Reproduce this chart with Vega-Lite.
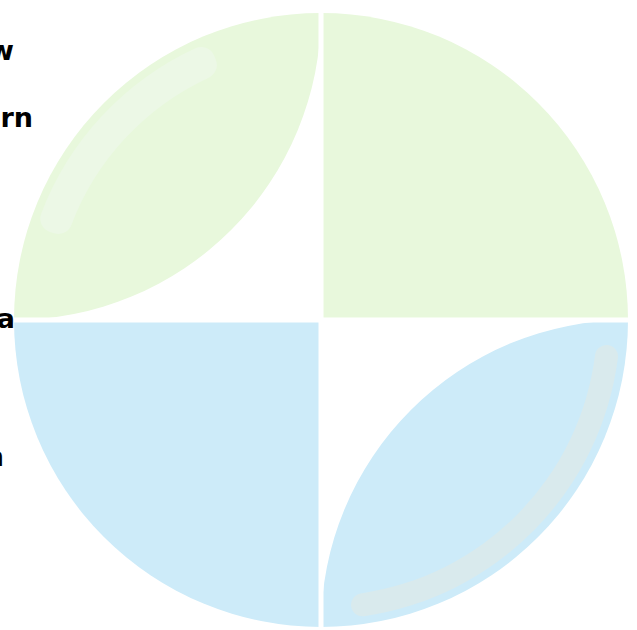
{
  "$schema": "https://vega.github.io/schema/vega-lite/v6.json",
  "width": 637,
  "height": 630,
  "autosize": {"type": "none"},
  "padding": 0,
  "background": "white",
  "config": {"view": {"stroke": null}},
  "datasets": {
    "arcs": [
      {"step": 1, "part": "top-left leaf", "cx": 0, "cy": 0, "r0": 0, "r1": 1, "t0": 270, "t1": 360, "tone": "green"},
      {"step": 1, "part": "bottom-right leaf", "cx": 0, "cy": 0, "r0": 0, "r1": 1, "t0": 90, "t1": 180, "tone": "blue"},
      {"step": 2, "part": "top-left cut", "cx": -1, "cy": 1, "r0": 1, "r1": 1.42, "t0": 90, "t1": 180, "tone": "white"},
      {"step": 2, "part": "bottom-right cut", "cx": 1, "cy": -1, "r0": 1, "r1": 1.42, "t0": 270, "t1": 360, "tone": "white"},
      {"step": 3, "part": "top-right quadrant", "cx": 0, "cy": 0, "r0": 0, "r1": 1, "t0": 0, "t1": 90, "tone": "green"},
      {"step": 3, "part": "bottom-left quadrant", "cx": 0, "cy": 0, "r0": 0, "r1": 1, "t0": 180, "t1": 270, "tone": "blue"}
    ],
    "bands": [
      {"part": "bottom-right sheen", "cx": 0, "cy": 0, "r0": 0.9, "r1": 0.975, "t0": 95, "t1": 174, "tone": "grey"},
      {"part": "top-left sheen", "cx": 0, "cy": 0, "r0": 0.87, "r1": 0.975, "t0": 288, "t1": 338, "tone": "pale"}
    ],
    "cross": [
      {"line": "vertical", "at": 0},
      {"line": "horizontal", "at": 0}
    ],
    "labels": [
      {"word": "w", "lx": -1.0, "ly": 0.847},
      {"word": "rn", "lx": -0.938, "ly": 0.629},
      {"word": "a", "lx": -0.997, "ly": -0.026},
      {"word": "n", "lx": -1.033, "ly": -0.476}
    ]
  },
  "encoding": {
    "x": {"field": "cx", "type": "quantitative", "scale": {"domain": [-1.0456, 1.0293], "nice": false, "zero": false}, "axis": null},
    "y": {"field": "cy", "type": "quantitative", "scale": {"domain": [-1.0098, 1.0423], "nice": false, "zero": false}, "axis": null}
  },
  "layer": [
    {
      "data": {"name": "arcs"},
      "transform": [{"filter": "datum.step == 1"}],
      "mark": {"type": "arc"},
      "encoding": {
        "theta": {"field": "t0", "type": "quantitative", "stack": null, "scale": {"domain": [0, 360], "range": [0, 6.283185307179586]}},
        "theta2": {"field": "t1"},
        "radius": {"field": "r0", "type": "quantitative", "scale": {"type": "linear", "domain": [0, 1], "range": [0, 307], "zero": true, "nice": false}},
        "radius2": {"field": "r1"},
        "color": {"field": "tone", "type": "nominal", "scale": {"domain": ["green", "blue", "white", "grey", "pale"], "range": ["#e8f8dc", "#cdebf9", "#ffffff", "#d9eaed", "#ecf8e6"]}, "legend": null}
      }
    },
    {
      "data": {"name": "bands"},
      "mark": {"type": "arc", "cornerRadius": 14},
      "encoding": {
        "theta": {"field": "t0", "type": "quantitative", "stack": null},
        "theta2": {"field": "t1"},
        "radius": {"field": "r0", "type": "quantitative"},
        "radius2": {"field": "r1"},
        "color": {"field": "tone", "type": "nominal", "legend": null}
      }
    },
    {
      "data": {"name": "arcs"},
      "transform": [{"filter": "datum.step == 2"}],
      "mark": {"type": "arc"},
      "encoding": {
        "theta": {"field": "t0", "type": "quantitative", "stack": null},
        "theta2": {"field": "t1"},
        "radius": {"field": "r0", "type": "quantitative"},
        "radius2": {"field": "r1"},
        "color": {"field": "tone", "type": "nominal", "legend": null}
      }
    },
    {
      "data": {"name": "arcs"},
      "transform": [{"filter": "datum.step == 3"}],
      "mark": {"type": "arc"},
      "encoding": {
        "theta": {"field": "t0", "type": "quantitative", "stack": null},
        "theta2": {"field": "t1"},
        "radius": {"field": "r0", "type": "quantitative"},
        "radius2": {"field": "r1"},
        "color": {"field": "tone", "type": "nominal", "legend": null}
      }
    },
    {
      "data": {"name": "cross"},
      "transform": [{"filter": "datum.line == 'vertical'"}],
      "mark": {"type": "rule", "color": "white", "strokeWidth": 5},
      "encoding": {
        "x": {"field": "at", "type": "quantitative"},
        "y": null
      }
    },
    {
      "data": {"name": "cross"},
      "transform": [{"filter": "datum.line == 'horizontal'"}],
      "mark": {"type": "rule", "color": "white", "strokeWidth": 5},
      "encoding": {
        "y": {"field": "at", "type": "quantitative"},
        "x": null
      }
    },
    {
      "data": {"name": "labels"},
      "mark": {"type": "text", "align": "right", "baseline": "alphabetic", "font": "DejaVu Sans", "fontSize": 27, "fontWeight": "bold", "color": "#000000"},
      "encoding": {
        "x": {"field": "lx", "type": "quantitative"},
        "y": {"field": "ly", "type": "quantitative"},
        "text": {"field": "word"}
      }
    }
  ]
}
